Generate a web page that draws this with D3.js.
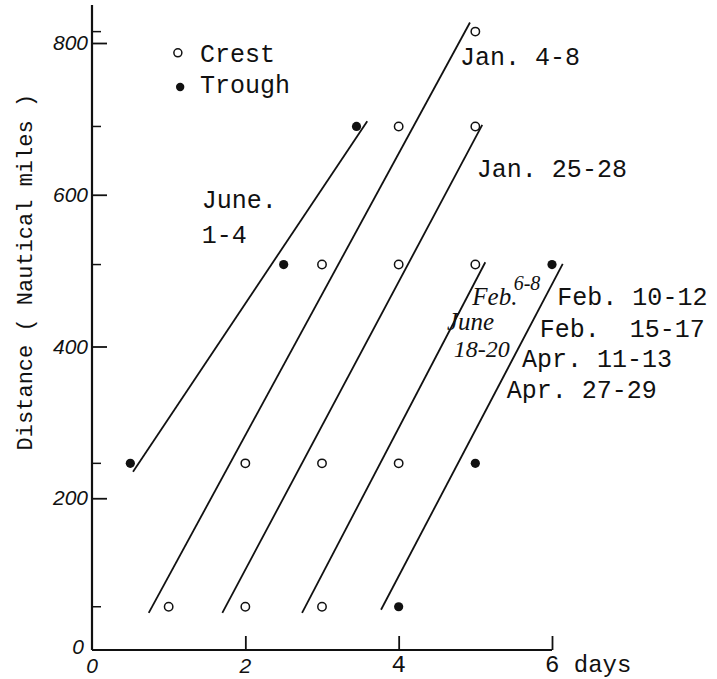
<!DOCTYPE html>
<html>
<head>
<meta charset="utf-8">
<script src="https://cdn.jsdelivr.net/npm/d3@7"></script>
<style>
  body { margin: 0; background: #fff; }
  .tw { font-family: "Liberation Mono", monospace; fill: #111; }
  .hand { font-family: "Liberation Serif", serif; font-style: italic; fill: #111; }
  .num { font-family: "Liberation Sans Narrow", "Liberation Sans", sans-serif; font-style: italic; fill: #111; }
</style>
</head>
<body>
<div class="chartArea"></div>
<script>
let width = 717,
    height = 679

// station distances (nautical miles) marked by the short ticks
const stations = [57, 246, 508, 690, 815]
const yTicks = [200, 400, 600, 800]
const xTicks = [2, 4, 6]

// [days, miles]
const crest = [[1, 57], [2, 57], [3, 57],
               [2, 246], [3, 246], [4, 246],
               [3, 508], [4, 508], [5, 508],
               [4, 690], [5, 690],
               [5, 815]]
const trough = [[0.5, 246], [2.5, 508], [3.45, 690],
                [4, 57], [5, 246], [6, 508]]

// fitted lines, end points [days, miles]
const lineStarts = [[0.535, 235], [0.74, 49], [1.70, 49], [2.74, 49], [3.77, 53]]
const lineEnds   = [[3.59, 697], [4.93, 827], [5.09, 692], [5.13, 511], [6.14, 509]]

// typed labels: text, days, miles
const typedLabels = [
  ['Jan. 4-8', 4.80, 771],
  ['Jan. 25-28', 5.02, 623],
  ['June.', 1.43, 583],
  ['1-4', 1.43, 536],
  ['Feb. 10-12', 6.07, 455],
  ['Feb.  15-17', 5.84, 413],
  ['Apr. 11-13', 5.61, 373],
  ['Apr. 27-29', 5.41, 332]
]
// handwritten labels: text, days, miles, size
const handLabels = [
  ['Feb.', 4.96, 455, 25],
  ['6-8', 5.50, 474, 20],
  ['June', 4.63, 422, 25],
  ['18-20', 4.72, 386, 24]
]

const svg = d3.select('.chartArea')
    .append('svg')
    .attr('width', width)
    .attr('height', height)

const xScale = d3.scaleLinear().domain([0, 6]).range([92, 552])
const yScale = d3.scaleLinear().domain([0, 800]).range([650, 43])

// axis lines
svg.append('line')
    .attr('x1', xScale(0)).attr('x2', xScale(0))
    .attr('y1', yScale(0)).attr('y2', yScale(850))
    .attr('stroke', '#111').attr('stroke-width', 2.2)
svg.append('line')
    .attr('x1', xScale(0)).attr('x2', xScale(6))
    .attr('y1', yScale(0)).attr('y2', yScale(0))
    .attr('stroke', '#111').attr('stroke-width', 2.2)

// y axis, ticks pointing inward
const yAxis = d3.axisLeft(yScale)
    .tickValues(yTicks)
    .tickSize(-15)
    .tickPadding(4)
const gy = svg.append('g')
    .attr('transform', `translate(${xScale(0)}, 0)`)
    .call(yAxis)
gy.select('.domain').remove()
gy.selectAll('line').attr('stroke', '#111').attr('stroke-width', 1.8)
gy.selectAll('text').attr('class', 'num').attr('font-size', 21)

// y value 0 label
svg.append('text')
    .attr('class', 'num')
    .attr('x', xScale(0) - 8)
    .attr('y', yScale(0) + 4)
    .attr('text-anchor', 'end')
    .attr('font-size', 21)
    .text('0')

// short ticks at station distances
svg.selectAll('.stick')
    .data(stations)
    .enter()
    .append('line')
    .attr('x1', xScale(0)).attr('x2', xScale(0) + 9)
    .attr('y1', d => yScale(d)).attr('y2', d => yScale(d))
    .attr('stroke', '#111').attr('stroke-width', 1.5)

// x axis ticks pointing up
const xAxis = d3.axisBottom(xScale)
    .tickValues(xTicks)
    .tickSize(-14)
    .tickFormat('')
const gx = svg.append('g')
    .attr('transform', `translate(0, ${yScale(0)})`)
    .call(xAxis)
gx.select('.domain').remove()
gx.selectAll('line').attr('stroke', '#111').attr('stroke-width', 1.8)

// x tick labels (mixed lettering like the original)
svg.append('text').attr('class', 'num').attr('font-size', 21)
    .attr('x', xScale(0)).attr('y', 673).attr('text-anchor', 'middle').text('0')
svg.append('text').attr('class', 'num').attr('font-size', 21)
    .attr('x', xScale(2)).attr('y', 673).attr('text-anchor', 'middle').text('2')
svg.append('text').attr('class', 'tw').attr('font-size', 24)
    .attr('x', xScale(4)).attr('y', 672).attr('text-anchor', 'middle').text('4')
svg.append('text').attr('class', 'tw').attr('font-size', 24)
    .attr('x', xScale(6) - 7).attr('y', 672).text('6 days')

// y axis title
svg.append('text')
    .attr('class', 'tw')
    .attr('font-size', 22)
    .attr('transform', `translate(32, ${yScale(498)}) rotate(-90)`)
    .attr('text-anchor', 'middle')
    .text('Distance ( Nautical miles )')

// fitted lines
svg.selectAll('.fit')
    .data(lineStarts)
    .enter()
    .append('line')
    .attr('x1', d => xScale(d[0])).attr('y1', d => yScale(d[1]))
    .attr('x2', (d, i) => xScale(lineEnds[i][0]))
    .attr('y2', (d, i) => yScale(lineEnds[i][1]))
    .attr('stroke', '#111').attr('stroke-width', 1.8)

// crest points
svg.selectAll('.crest')
    .data(crest)
    .enter()
    .append('circle')
    .attr('cx', d => xScale(d[0])).attr('cy', d => yScale(d[1]))
    .attr('r', 4.2)
    .attr('fill', '#fff').attr('stroke', '#111').attr('stroke-width', 1.5)

// trough points
svg.selectAll('.trough')
    .data(trough)
    .enter()
    .append('circle')
    .attr('cx', d => xScale(d[0])).attr('cy', d => yScale(d[1]))
    .attr('r', 4.6)
    .attr('fill', '#111')

// legend
svg.append('circle')
    .attr('cx', xScale(1.12)).attr('cy', yScale(787)).attr('r', 4)
    .attr('fill', '#fff').attr('stroke', '#111').attr('stroke-width', 1.5)
svg.append('circle')
    .attr('cx', xScale(1.15)).attr('cy', yScale(742)).attr('r', 4.2)
    .attr('fill', '#111')
svg.append('text').attr('class', 'tw').attr('font-size', 25)
    .attr('x', xScale(1.41)).attr('y', yScale(775)).text('Crest')
svg.append('text').attr('class', 'tw').attr('font-size', 25)
    .attr('x', xScale(1.41)).attr('y', yScale(734)).text('Trough')

// typed labels
svg.selectAll('.typed')
    .data(typedLabels)
    .enter()
    .append('text')
    .attr('class', 'tw')
    .attr('font-size', 25)
    .attr('xml:space', 'preserve')
    .style('white-space', 'pre')
    .attr('x', d => xScale(d[1])).attr('y', d => yScale(d[2]))
    .text(d => d[0])

// handwritten labels
svg.selectAll('.hand')
    .data(handLabels)
    .enter()
    .append('text')
    .attr('class', 'hand')
    .attr('font-size', d => d[3])
    .attr('x', d => xScale(d[1])).attr('y', d => yScale(d[2]))
    .text(d => d[0])
</script>
</body>
</html>
